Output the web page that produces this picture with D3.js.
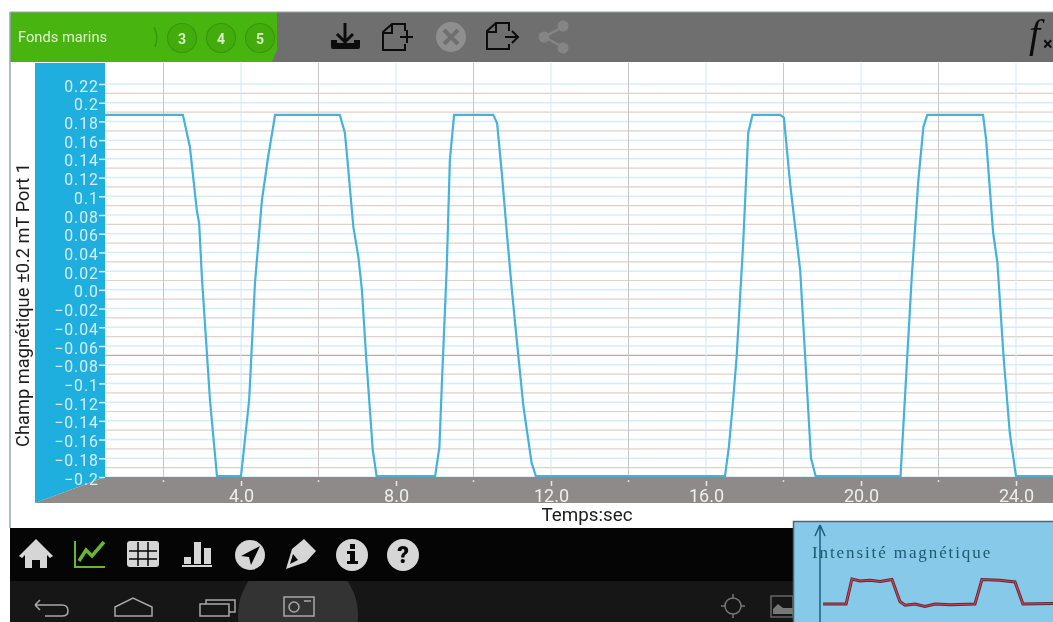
<!DOCTYPE html>
<html>
<head>
<meta charset="utf-8">
<script src="https://cdn.jsdelivr.net/npm/d3@7"></script>
<style>
  html, body { margin: 0; padding: 0; background: #fff; overflow: hidden; }
  text { font-family: Roboto, sans-serif; }
  svg { filter: blur(0.4px); }
</style>
</head>
<body>
<div class="main"></div>
<script>
// Values
const timeSec = [0.49, 2.50, 2.68, 2.86, 2.92, 2.99, 3.20, 3.38, 4.00, 4.21, 4.36, 4.54, 4.70, 4.88,
  6.55, 6.68, 6.74, 6.90, 7.03, 7.12, 7.23, 7.35, 7.40, 7.50, 9.01, 9.12, 9.18, 9.31, 9.39, 9.50,
  10.51, 10.61, 10.73, 10.86, 10.99, 11.16, 11.29, 11.50, 11.61, 16.49, 16.59, 16.70, 16.79, 16.96, 17.09, 17.20,
  17.91, 18.01, 18.17, 18.43, 18.56, 18.71, 18.83, 21.02, 21.13, 21.31, 21.48, 21.61, 21.71,
  23.15, 23.23, 23.41, 23.52, 23.68, 23.84, 24.00, 24.95]
const fieldMt = [0.187, 0.187, 0.153, 0.085, 0.071, 0.014, -0.118, -0.199, -0.199, -0.118, 0.007, 0.096, 0.142, 0.187,
  0.187, 0.168, 0.142, 0.067, 0.035, 0, -0.072, -0.142, -0.171, -0.199, -0.199, -0.168, -0.104, 0.024, 0.139, 0.187,
  0.187, 0.178, 0.125, 0.061, 0, -0.072, -0.125, -0.185, -0.199, -0.199, -0.168, -0.118, -0.072, 0.050, 0.168, 0.187,
  0.187, 0.184, 0.114, 0.021, -0.072, -0.180, -0.199, -0.199, -0.118, 0.014, 0.117, 0.174, 0.187,
  0.187, 0.160, 0.061, 0.029, -0.072, -0.153, -0.199, -0.199]

const yTicks = [0.22, 0.2, 0.18, 0.16, 0.14, 0.12, 0.1, 0.08, 0.06, 0.04, 0.02, 0.0, -0.02, -0.04, -0.06, -0.08, -0.1, -0.12, -0.14, -0.16, -0.18, -0.2]
const yTickLabels = ["0.22", "0.2", "0.18", "0.16", "0.14", "0.12", "0.1", "0.08", "0.06", "0.04", "0.02", "0.0", "−0.02", "−0.04", "−0.06", "−0.08", "−0.1", "−0.12", "−0.14", "−0.16", "−0.18", "−0.2"]
const yMinorGrid = [0.21, 0.19, 0.17, 0.15, 0.13, 0.11, 0.09, 0.07, 0.05, 0.03, 0.01, -0.01, -0.03, -0.05, -0.07, -0.09, -0.11, -0.13, -0.15, -0.17, -0.19]
const xMajorTicks = [4, 8, 12, 16, 20, 24]
const xMinorTicks = [2, 6, 10, 14, 18, 22]

// Little textbook graph pasted in the corner
const insetTime = [0.13, 1.12, 1.37, 1.72, 2.15, 2.58, 3.09, 3.43, 3.65, 4.08, 4.5, 4.94, 5.58, 6.65, 6.95, 7.7, 8.37, 8.71, 10]
const insetLevel = [0, 0, 1.0, 0.92, 0.95, 0.9, 0.98, 0.1, -0.05, 0, -0.1, 0, -0.03, 0, 0.98, 0.95, 0.88, 0, 0.02]

const width = 1053
const height = 622
const plot = ({left: 105, top: 63, bottom: 477, right: 1053})

const x = d3.scaleLinear().domain([0, 4]).range([86, 241])
const y = d3.scaleLinear().domain([-0.2, 0.22]).range([477, 84])

const svg = d3.select(".main").append("svg")
  .attr("width", width)
  .attr("height", height)
  .attr("viewBox", [0, 0, width, height])
  .style("display", "block")

// Grid
const grid = svg.append("g").attr("id", "grid").attr("stroke-width", 1)

grid.selectAll(".majorY").data(yTicks).join("line")
  .attr("x1", plot.left).attr("x2", plot.right)
  .attr("y1", d => y(d)).attr("y2", d => y(d))
  .attr("stroke", "#d4edf7")
  .attr("stroke-width", 1.5)

grid.selectAll(".minorY").data(yMinorGrid).join("line")
  .attr("x1", plot.left).attr("x2", plot.right)
  .attr("y1", d => y(d)).attr("y2", d => y(d))
  // the -0.07 line comes out darker in the photo
  .attr("stroke", d => d === -0.07 ? "#b5adaa" : "#dcd2ce")
  .attr("stroke-width", 1.2)

grid.selectAll(".minorX").data(xMinorTicks).join("line")
  .attr("x1", d => x(d)).attr("x2", d => x(d))
  .attr("y1", plot.top).attr("y2", plot.bottom)
  .attr("stroke", "#c9c6c5")

grid.selectAll(".majorX").data(xMajorTicks).join("line")
  .attr("x1", d => x(d)).attr("x2", d => x(d))
  .attr("y1", plot.top).attr("y2", plot.bottom)
  .attr("stroke", "#cfeaf5")

// Curve
svg.append("path")
  .attr("d", d3.line().x(d => x(d)).y((d, i) => y(fieldMt[i]))(timeSec))
  .attr("fill", "none")
  .attr("stroke", "#45b2dc")
  .attr("stroke-width", 2.2)

// Coloured axis bands
svg.append("path").attr("d", "M35,63H105V477L35,503Z").attr("fill", "#1fafdf")
svg.append("path").attr("d", "M105,477H1053V503H35Z").attr("fill", "#8d8a89")

// Y axis
const yAxis = svg.append("g")
  .attr("transform", `translate(${plot.left},0)`)
  .call(d3.axisLeft(y).tickValues(yTicks).tickSize(6).tickPadding(0).tickFormat((d, i) => yTickLabels[i]))
yAxis.select(".domain").remove()
yAxis.selectAll("line").attr("stroke", "#d5eef8").attr("stroke-width", 1.5)
yAxis.selectAll("text")
  .attr("fill", "#d6eef8")
  .attr("font-size", 15.8)
  .attr("letter-spacing", 1)
  .attr("dy", "0.45em")
  .style("font-family", "Roboto, sans-serif")

// X axis
const xAxis = svg.append("g")
  .attr("transform", `translate(0,${plot.bottom})`)
  .call(d3.axisBottom(x).tickValues(xMajorTicks).tickSize(9).tickPadding(3).tickFormat(d3.format(".1f")))
xAxis.select(".domain").remove()
xAxis.selectAll("line").attr("stroke", "#e8e8e8").attr("stroke-width", 1.5).attr("y1", 4)
xAxis.selectAll("text")
  .attr("fill", "#eeeeee")
  .attr("font-size", 18)
  .style("font-family", "Roboto, sans-serif")

svg.append("g").selectAll("line").data(xMinorTicks).join("line")
  .attr("x1", d => x(d)).attr("x2", d => x(d))
  .attr("y1", plot.bottom + 3).attr("y2", plot.bottom + 5)
  .attr("stroke", "#ddd").attr("stroke-width", 1.5)

// Axis titles
svg.append("text")
  .attr("transform", "translate(29,305) rotate(-90)")
  .attr("text-anchor", "middle")
  .attr("font-size", 18.3)
  .attr("fill", "#1c1c1c")
  .text("Champ magnétique ±0.2 mT Port 1")

svg.append("text")
  .attr("x", 587).attr("y", 521)
  .attr("text-anchor", "middle")
  .attr("font-size", 18.8)
  .attr("fill", "#1c1c1c")
  .text("Temps:sec")

// Top toolbar
svg.append("rect").attr("x", 10).attr("y", 12).attr("width", width - 10).attr("height", 50).attr("fill", "#6f6f6f")
svg.append("path").attr("d", "M10,12H277V50L272,62H10Z").attr("fill", "#48b40f")
svg.append("line").attr("x1", 10).attr("x2", width).attr("y1", 12).attr("y2", 12).attr("stroke", "#9aa7b0")
svg.append("line").attr("x1", 10).attr("x2", 10).attr("y1", 12).attr("y2", 528).attr("stroke", "#98a6b2").attr("stroke-width", 1.5)

svg.append("text").attr("x", 18).attr("y", 42).attr("font-size", 14.7).attr("fill", "#e2f5d2").text("Fonds marins")
svg.append("path").attr("d", "M154,27Q159,37 155,47").attr("fill", "none").attr("stroke", "#339a0a").attr("stroke-width", 1.5)

const stepNums = ["3", "4", "5"]
const stepX = d3.scalePoint().domain(stepNums).range([182, 260])
const steps = svg.append("g").selectAll("g").data(stepNums).join("g")
  .attr("transform", d => `translate(${stepX(d)},38)`)
steps.append("circle").attr("r", 14.5).attr("fill", "#43ac0d").attr("stroke", "#369a08").attr("stroke-width", 1.2)
steps.append("text").attr("y", 6).attr("text-anchor", "middle").attr("font-size", 14).attr("font-weight", 700).attr("fill", "#d8f0c4").text(d => d)

// Toolbar icons
const icons = svg.append("g").attr("fill", "none").attr("stroke", "#0c0c0c")
icons.append("path").attr("d", "M345,23V41M337,34L345,42L353,34").attr("stroke-width", 3)
icons.append("path").attr("d", "M331,40V47Q331,49 333,49H358Q360,49 360,47V40H354V43H337V40Z").attr("fill", "#0c0c0c").attr("stroke", "none")
icons.append("path").attr("d", "M405,31V24H392L383,32V50H405V44M383,33H392V24").attr("stroke-width", 2)
icons.append("path").attr("d", "M400,37H413M407,30V43").attr("stroke-width", 2)
icons.append("path").attr("d", "M509,31V23H496L487,31V49H509V44M487,32H496V23").attr("stroke-width", 2)
icons.append("path").attr("d", "M505,37H517M512,31L518,37L512,43").attr("stroke-width", 2)
svg.append("circle").attr("cx", 451).attr("cy", 37).attr("r", 15).attr("fill", "#8f8f8f")
svg.append("path").attr("d", "M444,30L458,44M458,30L444,44").attr("stroke", "#6f6f6f").attr("stroke-width", 4)
const share = svg.append("g").attr("fill", "#858585")
share.append("path").attr("d", "M563,27L544,37L563,47").attr("fill", "none").attr("stroke", "#858585").attr("stroke-width", 2.5)
share.append("circle").attr("cx", 563).attr("cy", 26).attr("r", 5.5)
share.append("circle").attr("cx", 544).attr("cy", 37).attr("r", 5.5)
share.append("circle").attr("cx", 563).attr("cy", 48).attr("r", 5.5)
svg.append("text").attr("x", 1029).attr("y", 47).attr("font-size", 40).attr("font-style", "italic")
  .attr("fill", "#0c0c0c").style("font-family", "'Liberation Serif', serif").text("f")
svg.append("text").attr("x", 1043).attr("y", 50).attr("font-size", 18).attr("font-weight", 700)
  .attr("fill", "#0c0c0c").text("×")

// Bottom bars
svg.append("rect").attr("x", 10).attr("y", 528).attr("width", width - 10).attr("height", 53).attr("fill", "#050505")
svg.append("rect").attr("x", 10).attr("y", 581).attr("width", width - 10).attr("height", 41).attr("fill", "#161616")
svg.append("clipPath").attr("id", "navClip").append("rect").attr("x", 10).attr("y", 581).attr("width", width - 10).attr("height", 41)
svg.append("circle").attr("cx", 298).attr("cy", 615).attr("r", 60).attr("fill", "#333").attr("clip-path", "url(#navClip)")

const light = "#d6d6d6"
const menu = svg.append("g").attr("fill", light)
menu.append("path").attr("d", "M36,539L53,556L50,558L47,555V568H40V560H32V568H25V555L22,558L19,556Z")
menu.append("path").attr("d", "M75,541V567H105").attr("fill", "none").attr("stroke", "#66b82e").attr("stroke-width", 2)
menu.append("path").attr("d", "M79,561L86,550L92,556L104,542").attr("fill", "none").attr("stroke", "#66b82e").attr("stroke-width", 3.5)
menu.append("rect").attr("x", 127).attr("y", 541).attr("width", 32).attr("height", 26).attr("rx", 3)
menu.append("path").attr("d", "M129,551H157M129,559H157M138,542V566M148,542V566").attr("stroke", "#050505").attr("stroke-width", 1.5)
menu.append("path").attr("d", "M184,557H191V564H184ZM194,542H201V564H194ZM204,548H211V564H204ZM182,565H212V567H182Z")
menu.append("circle").attr("cx", 250).attr("cy", 555).attr("r", 15)
menu.append("path").attr("d", "M260,546L241,556L249,557L251,565Z").attr("fill", "#050505")
menu.append("path").attr("d", "M286,569L292,549L304,539L316,551L306,562Z")
menu.append("path").attr("d", "M290,564L293,554L298,560Z").attr("fill", "#050505")
menu.append("circle").attr("cx", 352).attr("cy", 555).attr("r", 16)
menu.append("path").attr("d", "M350,544h5v5h-5ZM347,551h8v10h3v3h-11v-3h3v-7h-3Z").attr("fill", "#050505")
menu.append("circle").attr("cx", 403).attr("cy", 555).attr("r", 16)
menu.append("text").attr("x", 403).attr("y", 563).attr("text-anchor", "middle").attr("font-size", 23).attr("font-weight", 900).attr("fill", "#050505").text("?")

const nav = svg.append("g").attr("fill", "none").attr("stroke", "#a8a8a8").attr("stroke-width", 1.5)
nav.append("path").attr("d", "M35,605L40,600M35,605L40,610M35,605H62Q68,605 68,611Q68,616 62,616H45")
nav.append("path").attr("d", "M115,616V607L133,598L152,607V616Z")
nav.append("path").attr("d", "M200,604H229V616H200ZM206,604V600H235V612H229")
nav.append("path").attr("d", "M284,597H314V616H284ZM304,601H311")
nav.append("circle").attr("cx", 294).attr("cy", 607).attr("r", 5)
nav.append("circle").attr("cx", 733).attr("cy", 606).attr("r", 8).attr("stroke", "#777")
nav.append("path").attr("d", "M733,594V598M733,614V618M721,606H725M741,606H745").attr("stroke", "#777")
nav.append("rect").attr("x", 771).attr("y", 596).attr("width", 22).attr("height", 21).attr("stroke", "#666")
svg.append("path").attr("d", "M773,614V609L778,604L783,608L793,608V614Z").attr("fill", "#777")

// Inset picture
svg.append("rect").attr("x", 793.5).attr("y", 521.5).attr("width", 262).attr("height", 103)
  .attr("fill", "#86c9e8").attr("stroke", "#4f6672").attr("stroke-width", 1.5)
svg.append("path").attr("d", "M820,525V622M820,525L815,536M820,525L825,536")
  .attr("fill", "none").attr("stroke", "#1d5f7c").attr("stroke-width", 1.5)
svg.append("text").attr("x", 812).attr("y", 558)
  .attr("font-size", 17).attr("fill", "#1c5a72").attr("letter-spacing", 1.9)
  .style("font-family", "'Liberation Serif', serif")
  .text("Intensité magnétique")

const insetX = d3.scaleLinear().domain([0, 10]).range([820, 1053])
const insetY = d3.scaleLinear().domain([0, 1]).range([604, 579])
const insetLine = d3.line().x(d => insetX(d)).y((d, i) => insetY(insetLevel[i]))
svg.append("path").attr("d", insetLine(insetTime)).attr("fill", "none").attr("stroke", "#5a2a3a").attr("stroke-width", 3)
svg.append("path").attr("d", insetLine(insetTime)).attr("fill", "none").attr("stroke", "#d8404f").attr("stroke-width", 1.2)
</script>
</body>
</html>
